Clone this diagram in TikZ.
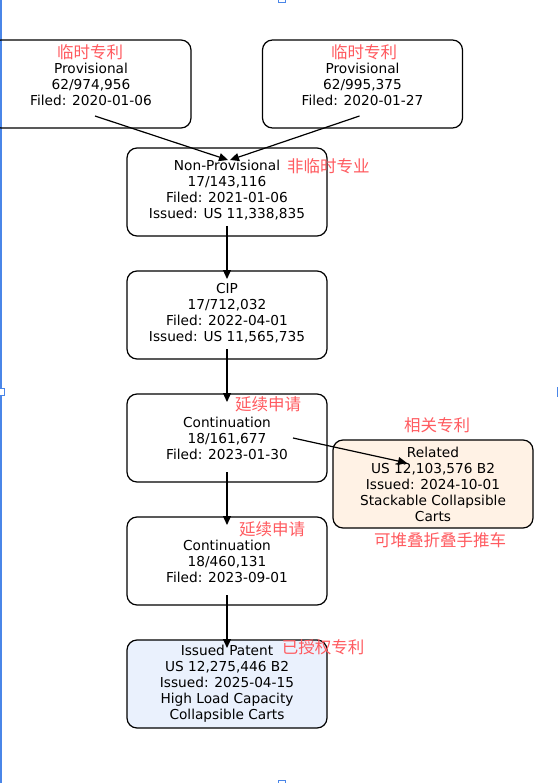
\documentclass[tikz,border=0pt]{standalone}
\usepackage{fontspec}
\setmainfont{DejaVu Sans}
\newfontfamily\cjk{Noto Sans CJK SC}
\usepackage{tikz}
\usetikzlibrary{arrows.meta,positioning,calc}
\definecolor{labred}{HTML}{FF5A5F}
\definecolor{relfill}{HTML}{FFF2E5}
\definecolor{patfill}{HTML}{EAF1FD}
\definecolor{handle}{HTML}{4A86E8}

\begin{document}
\begin{tikzpicture}[x=1pt,y=-1pt,node distance=35pt]
      \tikzstyle{box}=[draw,rounded corners=10pt,line width=1.2pt,minimum width=200pt,minimum height=88pt,inner sep=0pt,outer sep=0pt]
      \tikzstyle{txt}=[align=center,inner sep=2pt,font=\fontsize{13.7}{16}\selectfont]
      \tikzstyle{cn}=[text=labred,inner sep=0pt,font=\cjk\fontsize{16.5}{18}\selectfont]
      \tikzstyle{arr}=[line width=1.2pt,-{Triangle[length=9pt,width=8pt]}]
      \useasboundingbox (0,0) rectangle (558,783);
      \clip (0,0) rectangle (558,783);
      % selection frame
      \draw[handle,line width=1.5pt] (0.75,0) -- (0.75,783);
      \draw[handle,line width=1pt] (557.5,387) -- (557.5,397);
      \node[draw=handle,fill=white,line width=1pt,minimum size=7pt,inner sep=0pt] (hl) at (1,392) {};
      \node[draw=handle,fill=white,line width=1pt,minimum size=7pt,inner sep=0pt] (ht) at (282,-1) {};
      \node[draw=handle,fill=white,line width=1pt,minimum size=7pt,inner sep=0pt] (hb) at (282,784) {};
      % boxes
      \node[box] (p1box) at (91,84) {};
      \node[box] (p2box) at (362.5,84) {};
      \node[box] (npbox) at (227,192) {};
      \node[box,below=of npbox] (cipbox) {};
      \node[box,below=of cipbox] (c1box) {};
      \node[box,below=of c1box] (c2box) {};
      \node[box,fill=patfill,below=of c2box] (patbox) {};
      \node[box,fill=relfill,right=6pt of c1box,yshift=-46pt] (relbox) {};
      % texts
      \node[txt] (p1) at (p1box) {Provisional\\62/974,956\\Filed: 2020-01-06};
      \node[txt] (p2) at (p2box) {Provisional\\62/995,375\\Filed: 2020-01-27};
      \node[txt,yshift=1.5pt] (np) at (npbox) {Non-Provisional\\17/143,116\\Filed: 2021-01-06\\Issued: US 11,338,835};
      \node[txt,yshift=1.5pt] (cip) at (cipbox) {CIP\\17/712,032\\Filed: 2022-04-01\\Issued: US 11,565,735};
      \node[txt] (c1) at (c1box) {Continuation\\18/161,677\\Filed: 2023-01-30};
      \node[txt] (c2) at (c2box) {Continuation\\18/460,131\\Filed: 2023-09-01};
      \node[txt] (rel) at (relbox) {Related\\US 12,103,576 B2\\Issued: 2024-10-01\\Stackable Collapsible\\Carts};
      \node[txt] (pat) at (patbox) {Issued Patent\\US 12,275,446 B2\\Issued: 2025-04-15\\High Load Capacity\\Collapsible Carts};
      % chinese labels
      \node[cn] (p1lab) at (90,52) {临时专利};
      \node[cn] (p2lab) at (364,52) {临时专利};
      \node[cn,anchor=west] (nplab) at (287,166) {非临时专业};
      \node[cn] (c1lab) at (268,404) {延续申请};
      \node[cn] (c2lab) at (272,529) {延续申请};
      \node[cn] (rellab) at (437,425) {相关专利};
      \node[cn] (reltitle) at (440,540) {可堆叠折叠手推车};
      \node[cn] (patlab) at (323,647) {已授权专利};
      % links
      \coordinate (relin) at (407,463);
      \draw[arr] ([shift={(4pt,12pt)}]p1box.south) -- ([shift={(1pt,-12pt)}]npbox.north);
      \draw[arr] ([shift={(-3pt,12pt)}]p2box.south) -- ([shift={(3pt,-12pt)}]npbox.north);
      \draw[arr,shorten <=-10pt,shorten >=-8pt] (npbox) -- (cipbox);
      \draw[arr,shorten <=-10pt,shorten >=-8pt] (cipbox) -- (c1box);
      \draw[arr,shorten <=-10pt,shorten >=-8pt] (c1box) -- (c2box);
      \draw[arr,shorten <=-10pt,shorten >=-8pt] (c2box) -- (patbox);
      \draw[arr] ([xshift=3pt]c1.east) -- (relin);
    \end{tikzpicture}
\end{document}
